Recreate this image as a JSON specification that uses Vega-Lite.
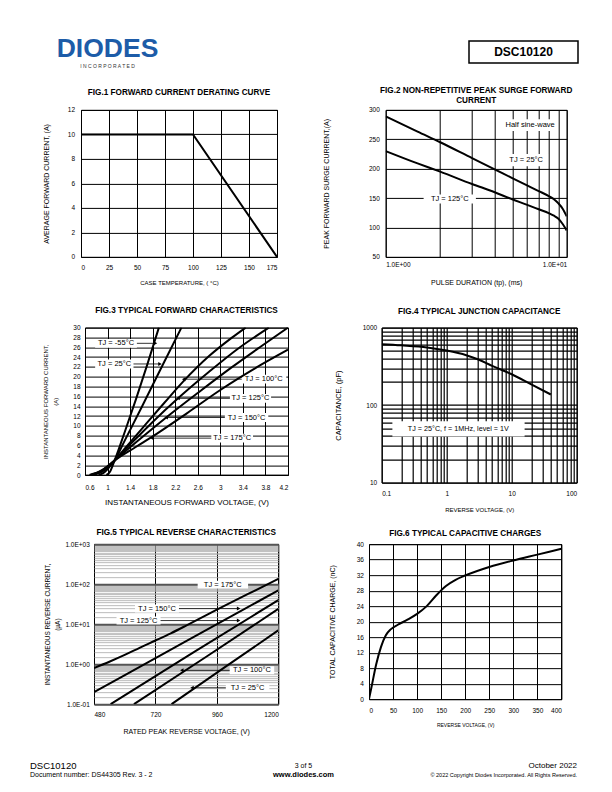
{
"$schema": "https://vega.github.io/schema/vega-lite/v6.json",
"background": "white",
"padding": {"left": 30, "top": 36, "right": 0, "bottom": 0},
"config": {
  "font": "Liberation Sans",
  "view": {"stroke": "black", "strokeWidth": 1},
  "axis": {"grid": true, "gridColor": "black", "gridWidth": 1, "gridOpacity": 1, "domain": false, "ticks": false, "tickSize": 0, "labelFont": "Liberation Sans", "labelFontSize": 6.5, "labelColor": "black", "titleFont": "Liberation Sans", "titleFontWeight": "normal", "titleColor": "black", "labelOverlap": false, "labelBound": false},
  "title": {"font": "Liberation Sans", "fontSize": 8.2, "fontWeight": "bold", "color": "black", "anchor": "middle", "lineHeight": 10, "frame": "group"},
  "text": {"font": "Liberation Sans", "color": "black"}
},
"spacing": 11.9,
"vconcat": [
  {"hconcat": [
    {"width": 155, "height": 32, "view": {"stroke": null},
     "layer": [
       {"data": {"values": [{"t": "DIODES"}]}, "mark": {"type": "text", "fontSize": 26.5, "fontWeight": "bold", "color": "#1d5ca8", "baseline": "alphabetic"}, "encoding": {"text": {"field": "t", "type": "nominal"}}},
       {"data": {"values": [{"t": "I   N   C   O   R   P   O   R   A   T   E   D"}]}, "mark": {"type": "text", "fontSize": 5, "color": "#333333", "baseline": "top", "dy": 6.5}, "encoding": {"text": {"field": "t", "type": "nominal"}}}
     ]},
    {"width": 109, "height": 22, "view": {"stroke": "black", "strokeWidth": 1.5},
     "data": {"values": [{"t": "DSC10120"}]}, "mark": {"type": "text", "fontSize": 12, "fontWeight": "bold", "baseline": "middle"}, "encoding": {"text": {"field": "t", "type": "nominal"}}}
  ], "spacing": 284, "bounds": "flush"},
  {"spacing": 24.7, "vconcat": [
    {"spacing": 19.7, "vconcat": [
      {"hconcat": [
        {"width": 50.7, "height": 1, "view": {"stroke": null}, "data": {"values": [{"t": ""}]}, "mark": {"type": "text"}, "encoding": {"text": {"field": "t", "type": "nominal"}}},
        {"hconcat": [
          {"width": 196, "height": 147,
           "title": {"text": "FIG.1 FORWARD CURRENT DERATING CURVE", "offset": 9.4},
           "data": {"values": [{"x": 0, "y": 10}, {"x": 100, "y": 10}, {"x": 175, "y": 0}]},
           "mark": {"type": "line", "color": "black", "strokeWidth": 2},
           "encoding": {
             "x": {"field": "x", "type": "quantitative", "scale": {"domain": [0, 175], "nice": false, "zero": false}, "axis": {"values": [0, 25, 50, 75, 100, 125, 150, 175], "title": "CASE TEMPERATURE, ( °C)", "titleFontSize": 6, "titleY": 22.5, "labelPadding": 8}},
             "y": {"field": "y", "type": "quantitative", "scale": {"domain": [0, 12], "nice": false}, "axis": {"values": [0, 2, 4, 6, 8, 10, 12], "title": "AVERAGE FORWARD CURRENT, (A)", "titleFontSize": 7, "titleX": -32, "labelPadding": 6.4}}
           }},
          {"width": 181, "height": 147,
           "title": {"text": ["FIG.2 NON-REPETITIVE PEAK SURGE FORWARD", "CURRENT"], "offset": 2.1},
           "encoding": {
             "x": {"field": "x", "type": "quantitative", "scale": {"type": "log", "domain": [1, 10], "nice": false}, "axis": {"values": [1, 2, 3, 4, 5, 6, 7, 8, 9, 10], "labelExpr": "datum.value == 1 ? '1.0E+00' : datum.value == 10 ? '1.0E+01' : ''", "labelFlush": true, "title": "PULSE DURATION (tp), (ms)", "titleFontSize": 7, "titleY": 21.2, "labelPadding": 4.6}},
             "y": {"field": "y", "type": "quantitative", "scale": {"domain": [50, 300], "nice": false, "zero": false}, "axis": {"values": [50, 100, 150, 200, 250, 300], "title": "PEAK FORWARD SURGE CURRENT,(A)", "titleFontSize": 7, "titleX": -56.5, "labelPadding": 6.4}}
           },
           "layer": [
             {"data": {"values": [{"x": 4.46, "x2": 8.85, "y": 264, "y2": 284}, {"x": 4.52, "x2": 7.89, "y": 204, "y2": 225}, {"x": 1.62, "x2": 3.15, "y": 141, "y2": 156}]},
              "mark": {"type": "rect", "color": "white"}, "encoding": {"x2": {"field": "x2"}, "y2": {"field": "y2"}}},
             {"data": {"values": [
               {"s": "25", "x": 1, "y": 289}, {"s": "25", "x": 1.5, "y": 263}, {"s": "25", "x": 2, "y": 245}, {"s": "25", "x": 3, "y": 218}, {"s": "25", "x": 4, "y": 199}, {"s": "25", "x": 5, "y": 184}, {"s": "25", "x": 6, "y": 172}, {"s": "25", "x": 7, "y": 162}, {"s": "25", "x": 8, "y": 153}, {"s": "25", "x": 8.5, "y": 148}, {"s": "25", "x": 9, "y": 141}, {"s": "25", "x": 9.5, "y": 132}, {"s": "25", "x": 10, "y": 119},
               {"s": "125", "x": 1, "y": 230}, {"s": "125", "x": 1.5, "y": 209}, {"s": "125", "x": 2, "y": 195}, {"s": "125", "x": 3, "y": 174}, {"s": "125", "x": 4, "y": 160}, {"s": "125", "x": 5, "y": 148}, {"s": "125", "x": 6, "y": 139}, {"s": "125", "x": 7, "y": 131}, {"s": "125", "x": 8, "y": 124}, {"s": "125", "x": 8.5, "y": 120}, {"s": "125", "x": 9, "y": 115}, {"s": "125", "x": 9.5, "y": 106}, {"s": "125", "x": 10, "y": 95}
             ]}, "mark": {"type": "line", "color": "black", "strokeWidth": 2, "interpolate": "monotone", "clip": true}, "encoding": {"detail": {"field": "s", "type": "nominal"}}},
             {"data": {"values": [{"x": 6.28, "y": 274, "label": "Half sine-wave"}, {"x": 5.97, "y": 214.6, "label": "TJ = 25°C"}, {"x": 2.26, "y": 148, "label": "TJ = 125°C"}]},
              "mark": {"type": "text", "fontSize": 7.5, "baseline": "middle"}, "encoding": {"text": {"field": "label", "type": "nominal"}}}
           ]}
        ], "spacing": 108.7, "bounds": "flush"}
      ], "spacing": 0, "bounds": "flush"},
      {"spacing": 13.55, "vconcat": [
        {"hconcat": [
          {"width": 54.3, "height": 1, "view": {"stroke": null}, "data": {"values": [{"t": ""}]}, "mark": {"type": "text"}, "encoding": {"text": {"field": "t", "type": "nominal"}}},
          {"hconcat": [
            {"width": 203, "height": 147.4,
             "title": {"text": "FIG.3 TYPICAL FORWARD CHARACTERISTICS", "offset": 9.1},
             "encoding": {
               "x": {"field": "x", "type": "quantitative", "scale": {"domain": [0.6, 4.2], "nice": false, "zero": false}, "axis": {"values": [0.6, 1, 1.4, 1.8, 2.2, 2.6, 3, 3.4, 3.8, 4.2], "format": "~g", "title": "INSTANTANEOUS FORWARD VOLTAGE, (V)", "titleFontSize": 8, "titleY": 23.2, "labelPadding": 9.2}},
               "y": {"field": "y", "type": "quantitative", "scale": {"domain": [0, 30], "nice": false}, "axis": {"values": [0, 2, 4, 6, 8, 10, 12, 14, 16, 18, 20, 22, 24, 26, 28, 30], "title": ["INSTANTANEOUS FORWARD CURRENT,", "(A)"], "titleFontSize": 6, "titleLineHeight": 10, "titleX": -36.5, "labelPadding": 5}}
             },
             "layer": [
               {"data": {"values": [{"x": 0.78, "x2": 1.52, "y": 25.9, "y2": 27.7}, {"x": 0.78, "x2": 1.46, "y": 21.7, "y2": 23.5}, {"x": 3.38, "x2": 4.17, "y": 18.6, "y2": 20.4}, {"x": 3.17, "x2": 3.9, "y": 14.7, "y2": 16.5}, {"x": 3.08, "x2": 3.85, "y": 10.8, "y2": 12.6}, {"x": 2.84, "x2": 3.58, "y": 6.6, "y2": 8.4}]},
                "mark": {"type": "rect", "color": "white"}, "encoding": {"x2": {"field": "x2"}, "y2": {"field": "y2"}}},
               {"data": {"values": [
                 {"s": "-55", "x": 0.98, "y": 0}, {"s": "-55", "x": 1.04, "y": 0.6}, {"s": "-55", "x": 1.1, "y": 2.2}, {"s": "-55", "x": 1.3, "y": 8.6}, {"s": "-55", "x": 1.5, "y": 15.3}, {"s": "-55", "x": 1.7, "y": 22.3}, {"s": "-55", "x": 1.91, "y": 30},
                 {"s": "25", "x": 0.84, "y": 0}, {"s": "25", "x": 0.95, "y": 0.6}, {"s": "25", "x": 1.03, "y": 1.6}, {"s": "25", "x": 1.12, "y": 2.9}, {"s": "25", "x": 1.3, "y": 6.9}, {"s": "25", "x": 1.6, "y": 13.7}, {"s": "25", "x": 1.9, "y": 20.6}, {"s": "25", "x": 2.1, "y": 25.2}, {"s": "25", "x": 2.31, "y": 30},
                 {"s": "100", "x": 0.74, "y": 0}, {"s": "100", "x": 0.9, "y": 0.7}, {"s": "100", "x": 1.0, "y": 1.5}, {"s": "100", "x": 1.12, "y": 2.9}, {"s": "100", "x": 1.3, "y": 5.3}, {"s": "100", "x": 1.6, "y": 9.3}, {"s": "100", "x": 2.0, "y": 14.6}, {"s": "100", "x": 2.34, "y": 19.0}, {"s": "100", "x": 2.8, "y": 24.2}, {"s": "100", "x": 3.2, "y": 27.9}, {"s": "100", "x": 3.45, "y": 30},
                 {"s": "125", "x": 0.72, "y": 0}, {"s": "125", "x": 0.9, "y": 0.8}, {"s": "125", "x": 1.0, "y": 1.6}, {"s": "125", "x": 1.12, "y": 2.9}, {"s": "125", "x": 1.4, "y": 6.2}, {"s": "125", "x": 1.8, "y": 10.8}, {"s": "125", "x": 2.25, "y": 15.6}, {"s": "125", "x": 2.8, "y": 21.0}, {"s": "125", "x": 3.3, "y": 25.6}, {"s": "125", "x": 3.86, "y": 30},
                 {"s": "150", "x": 0.7, "y": 0}, {"s": "150", "x": 0.9, "y": 0.9}, {"s": "150", "x": 1.0, "y": 1.7}, {"s": "150", "x": 1.12, "y": 2.9}, {"s": "150", "x": 1.5, "y": 6.6}, {"s": "150", "x": 2.04, "y": 11.7}, {"s": "150", "x": 2.6, "y": 16.7}, {"s": "150", "x": 3.2, "y": 21.9}, {"s": "150", "x": 3.7, "y": 26}, {"s": "150", "x": 4.2, "y": 30},
                 {"s": "175", "x": 0.68, "y": 0}, {"s": "175", "x": 0.9, "y": 1.0}, {"s": "175", "x": 1.0, "y": 1.8}, {"s": "175", "x": 1.12, "y": 2.9}, {"s": "175", "x": 1.5, "y": 5.7}, {"s": "175", "x": 1.78, "y": 7.7}, {"s": "175", "x": 2.4, "y": 12.5}, {"s": "175", "x": 3.0, "y": 17.3}, {"s": "175", "x": 3.6, "y": 21.6}, {"s": "175", "x": 4.2, "y": 25.5}
               ]}, "mark": {"type": "line", "color": "black", "strokeWidth": 2, "interpolate": "monotone", "clip": true}, "encoding": {"detail": {"field": "s", "type": "nominal"}}},
               {"data": {"values": [{"x": 1.52, "x2": 1.85, "y": 26.8}, {"x": 1.46, "x2": 1.93, "y": 22.6}, {"x": 3.38, "x2": 2.35, "y": 19.5}, {"x": 3.17, "x2": 2.25, "y": 15.6}, {"x": 3.08, "x2": 2.04, "y": 11.7}, {"x": 2.84, "x2": 1.79, "y": 7.5}]},
                "mark": {"type": "rule", "color": "black", "strokeWidth": 0.8}, "encoding": {"x2": {"field": "x2"}}},
               {"data": {"values": [{"x": 1.85, "y": 26.8, "dir": "right"}, {"x": 1.93, "y": 22.6, "dir": "right"}, {"x": 2.35, "y": 19.5, "dir": "left"}, {"x": 2.25, "y": 15.6, "dir": "left"}, {"x": 2.04, "y": 11.7, "dir": "left"}, {"x": 1.79, "y": 7.5, "dir": "left"}]},
                "mark": {"type": "point", "filled": true, "color": "black", "size": 16, "opacity": 1}, "encoding": {"shape": {"field": "dir", "type": "nominal", "scale": {"domain": ["left", "right"], "range": ["triangle-left", "triangle-right"]}, "legend": null}}},
               {"data": {"values": [{"x": 1.15, "y": 26.8, "label": "TJ = -55°C"}, {"x": 1.12, "y": 22.6, "label": "TJ = 25°C"}, {"x": 3.77, "y": 19.5, "label": "TJ = 100°C"}, {"x": 3.535, "y": 15.6, "label": "TJ = 125°C"}, {"x": 3.465, "y": 11.7, "label": "TJ = 150°C"}, {"x": 3.21, "y": 7.5, "label": "TJ = 175°C"}]},
                "mark": {"type": "text", "fontSize": 7.5, "baseline": "middle"}, "encoding": {"text": {"field": "label", "type": "nominal"}}}
             ]},
            {"width": 195, "height": 155,
             "title": {"text": "FIG.4 TYPICAL JUNCTION CAPACITANCE", "offset": 8.4},
             "encoding": {
               "x": {"field": "x", "type": "quantitative", "scale": {"type": "log", "domain": [0.1, 100], "nice": false}, "axis": {"values": [0.1, 0.2, 0.3, 0.4, 0.5, 0.6, 0.7, 0.8, 0.9, 1, 2, 3, 4, 5, 6, 7, 8, 9, 10, 20, 30, 40, 50, 60, 70, 80, 90, 100], "labelExpr": "datum.value == 0.1 ? '0.1' : datum.value == 1 ? '1' : datum.value == 10 ? '10' : datum.value == 100 ? '100' : ''", "gridWidth": 1.2, "title": "REVERSE VOLTAGE, (V)", "titleFontSize": 6, "titleY": 24.15, "labelPadding": 7.6}},
               "y": {"field": "y", "type": "quantitative", "scale": {"type": "log", "domain": [10, 1000], "nice": false}, "axis": {"values": [10, 20, 30, 40, 50, 60, 70, 80, 90, 100, 200, 300, 400, 500, 600, 700, 800, 900, 1000], "labelExpr": "datum.value == 10 ? '10' : datum.value == 100 ? '100' : datum.value == 1000 ? '1000' : ''", "gridWidth": 1.2, "title": "CAPACITANCE, (pF)", "titleFontSize": 7.5, "titleX": -39, "labelPadding": 5}}
             },
             "layer": [
               {"data": {"values": [{"x": 0.146, "x2": 15.8, "y": 39.4, "y2": 61.7}]}, "mark": {"type": "rect", "color": "white"}, "encoding": {"x2": {"field": "x2"}, "y2": {"field": "y2"}}},
               {"data": {"values": [{"x": 0.1, "y": 610}, {"x": 0.2, "y": 590}, {"x": 0.5, "y": 555}, {"x": 1, "y": 505}, {"x": 2, "y": 440}, {"x": 3, "y": 390}, {"x": 5, "y": 320}, {"x": 10, "y": 250}, {"x": 20, "y": 185}, {"x": 40, "y": 137}]},
                "mark": {"type": "line", "color": "black", "strokeWidth": 2, "interpolate": "monotone", "clip": true}},
               {"data": {"values": [{"x": 1.51, "y": 49.6, "label": "TJ = 25°C, f = 1MHz, level = 1V"}]}, "mark": {"type": "text", "fontSize": 7.2, "baseline": "middle"}, "encoding": {"text": {"field": "label", "type": "nominal"}}}
             ]}
          ], "spacing": 93.7, "bounds": "flush"}
        ], "spacing": 0, "bounds": "flush"},
        {"hconcat": [
          {"width": 64, "height": 1, "view": {"stroke": null}, "data": {"values": [{"t": ""}]}, "mark": {"type": "text"}, "encoding": {"text": {"field": "t", "type": "nominal"}}},
          {"hconcat": [
            {"width": 184.3, "height": 160,
             "title": {"text": "FIG.5 TYPICAL REVERSE CHARACTERISTICS", "offset": 4.1},
             "encoding": {
               "x": {"field": "x", "type": "quantitative", "scale": {"domain": [480, 1200], "nice": false, "zero": false}, "axis": {"values": [480, 720, 960, 1200], "format": "d", "labelFlush": true, "title": "RATED PEAK REVERSE VOLTAGE, (V)", "titleFontSize": 7, "titleY": 23.5, "labelPadding": 7}},
               "y": {"field": "y", "type": "quantitative", "scale": {"type": "log", "domain": [0.1, 1000], "nice": false},
                     "axis": {"values": [0.1, 0.15, 0.2, 0.25, 0.3, 0.35, 0.4, 0.45, 0.5, 0.55, 0.6, 0.65, 0.7, 0.75, 0.8, 0.85, 0.9, 0.95, 1, 1.5, 2, 2.5, 3, 3.5, 4, 4.5, 5, 5.5, 6, 6.5, 7, 7.5, 8, 8.5, 9, 9.5, 10, 15, 20, 25, 30, 35, 40, 45, 50, 55, 60, 65, 70, 75, 80, 85, 90, 95, 100, 150, 200, 250, 300, 350, 400, 450, 500, 550, 600, 650, 700, 750, 800, 850, 900, 950, 1000],
                              "labelExpr": "datum.value == 0.1 ? '1.0E-01' : datum.value == 1 ? '1.0E+00' : datum.value == 10 ? '1.0E+01' : datum.value == 100 ? '1.0E+02' : datum.value == 1000 ? '1.0E+03' : ''",
                              "gridColor": {"condition": {"test": "datum.value == 0.1 || datum.value == 1 || datum.value == 10 || datum.value == 100 || datum.value == 1000", "value": "#555555"}, "value": "#aaaaaa"},
                              "gridWidth": {"condition": {"test": "datum.value == 0.1 || datum.value == 1 || datum.value == 10 || datum.value == 100 || datum.value == 1000", "value": 2}, "value": 0.8},
                              "title": ["INSTANTANEOUS REVERSE CURRENT,", "(µA)"], "titleFontSize": 6.5, "titleLineHeight": 10, "titleX": -43.7, "labelPadding": 4.7}}
             },
             "layer": [
               {"data": {"values": [{"x": 885, "x2": 1082, "y": 78, "y2": 122}, {"x": 640, "x2": 812, "y": 19.5, "y2": 30.8}, {"x": 568, "x2": 740, "y": 9.8, "y2": 15.5}, {"x": 1010, "x2": 1184, "y": 0.556, "y2": 0.88}, {"x": 995, "x2": 1165, "y": 0.204, "y2": 0.323}]},
                "mark": {"type": "rect", "color": "white"}, "encoding": {"x2": {"field": "x2"}, "y2": {"field": "y2"}}},
               {"data": {"values": [
                 {"s": "175", "x": 480, "y": 0.8}, {"s": "175", "x": 540, "y": 1.15}, {"s": "175", "x": 600, "y": 1.7}, {"s": "175", "x": 660, "y": 2.6}, {"s": "175", "x": 720, "y": 3.9}, {"s": "175", "x": 780, "y": 5.9}, {"s": "175", "x": 840, "y": 9.2}, {"s": "175", "x": 900, "y": 14.5}, {"s": "175", "x": 960, "y": 23}, {"s": "175", "x": 1020, "y": 36}, {"s": "175", "x": 1080, "y": 56}, {"s": "175", "x": 1140, "y": 87}, {"s": "175", "x": 1200, "y": 135},
                 {"s": "150", "x": 480, "y": 0.2}, {"s": "150", "x": 840, "y": 3.74}, {"s": "150", "x": 1200, "y": 70},
                 {"s": "125", "x": 545, "y": 0.1}, {"s": "125", "x": 870, "y": 2.0}, {"s": "125", "x": 1200, "y": 40},
                 {"s": "100", "x": 636, "y": 0.1}, {"s": "100", "x": 920, "y": 1.55}, {"s": "100", "x": 1200, "y": 24},
                 {"s": "25", "x": 783, "y": 0.1}, {"s": "25", "x": 990, "y": 0.83}, {"s": "25", "x": 1200, "y": 7}
               ]}, "mark": {"type": "line", "color": "black", "strokeWidth": 2, "interpolate": "monotone", "clip": true}, "encoding": {"detail": {"field": "s", "type": "nominal"}}},
               {"data": {"values": [{"x": 812, "x2": 1045, "y": 24.5}, {"x": 740, "x2": 1045, "y": 12.3}, {"x": 1010, "x2": 823, "y": 0.7}, {"x": 995, "x2": 863, "y": 0.257}]},
                "mark": {"type": "rule", "color": "black", "strokeWidth": 0.8}, "encoding": {"x2": {"field": "x2"}}},
               {"data": {"values": [{"x": 1045, "y": 24.5, "dir": "right"}, {"x": 1045, "y": 12.3, "dir": "right"}, {"x": 823, "y": 0.7, "dir": "left"}, {"x": 863, "y": 0.257, "dir": "left"}]},
                "mark": {"type": "point", "filled": true, "color": "black", "size": 16, "opacity": 1}, "encoding": {"shape": {"field": "dir", "type": "nominal", "scale": {"domain": ["left", "right"], "range": ["triangle-left", "triangle-right"]}, "legend": null}}},
               {"data": {"values": [{"x": 983, "y": 97, "label": "TJ = 175°C"}, {"x": 726, "y": 24.5, "label": "TJ = 150°C"}, {"x": 654, "y": 12.3, "label": "TJ = 125°C"}, {"x": 1097, "y": 0.7, "label": "TJ = 100°C"}, {"x": 1080, "y": 0.257, "label": "TJ = 25°C"}]},
                "mark": {"type": "text", "fontSize": 7.5, "baseline": "middle"}, "encoding": {"text": {"field": "label", "type": "nominal"}}}
             ]},
            {"width": 192.4, "height": 155,
             "title": {"text": "FIG.6 TYPICAL CAPACITIVE CHARGES", "offset": 3.4},
             "data": {"values": [{"x": 0, "y": 0}, {"x": 5, "y": 3}, {"x": 15, "y": 9}, {"x": 25, "y": 13.5}, {"x": 35, "y": 16.5}, {"x": 45, "y": 18}, {"x": 60, "y": 19.2}, {"x": 80, "y": 20.5}, {"x": 100, "y": 22}, {"x": 120, "y": 24}, {"x": 140, "y": 26.8}, {"x": 160, "y": 29.2}, {"x": 180, "y": 30.8}, {"x": 200, "y": 31.9}, {"x": 250, "y": 34.1}, {"x": 300, "y": 35.8}, {"x": 350, "y": 37.3}, {"x": 400, "y": 38.8}]},
             "mark": {"type": "line", "color": "black", "strokeWidth": 2, "interpolate": "monotone", "clip": true},
             "encoding": {
               "x": {"field": "x", "type": "quantitative", "scale": {"domain": [0, 400], "nice": false}, "axis": {"values": [0, 50, 100, 150, 200, 250, 300, 350, 400], "title": "REVERSE VOLTAGE, (V)", "titleFontSize": 5, "titleY": 23.8, "labelPadding": 8.6}},
               "y": {"field": "y", "type": "quantitative", "scale": {"domain": [0, 40], "nice": false}, "axis": {"values": [0, 4, 8, 12, 16, 20, 24, 28, 32, 36, 40], "title": "TOTAL CAPACITIVE CHARGE, (nC)", "titleFontSize": 7, "titleX": -33.4, "labelPadding": 5.6}}
             }}
          ], "spacing": 90, "bounds": "flush"}
        ], "spacing": 0, "bounds": "flush"}
      ]}
    ]},
    {"width": 547, "height": 9, "view": {"stroke": null},
     "encoding": {
       "x": {"field": "slot", "type": "nominal", "scale": {"type": "point", "domain": ["left", "center", "right"], "padding": 0}, "axis": null},
       "y": {"field": "line", "type": "nominal", "scale": {"type": "point", "domain": ["1", "2"], "padding": 0}, "axis": null},
       "text": {"field": "t", "type": "nominal"}
     },
     "layer": [
       {"data": {"values": [{"slot": "left", "line": "1", "t": "DSC10120"}]}, "mark": {"type": "text", "fontSize": 9.5, "align": "left", "baseline": "middle"}},
       {"data": {"values": [{"slot": "left", "line": "2", "t": "Document number: DS44305 Rev. 3 - 2"}]}, "mark": {"type": "text", "fontSize": 7, "align": "left", "baseline": "middle"}},
       {"data": {"values": [{"slot": "center", "line": "1", "t": "3 of 5"}]}, "mark": {"type": "text", "fontSize": 7, "align": "center", "baseline": "middle"}},
       {"data": {"values": [{"slot": "center", "line": "2", "t": "www.diodes.com"}]}, "mark": {"type": "text", "fontSize": 7.5, "fontWeight": "bold", "align": "center", "baseline": "middle"}},
       {"data": {"values": [{"slot": "right", "line": "1", "t": "October 2022"}]}, "mark": {"type": "text", "fontSize": 8, "align": "right", "baseline": "middle"}},
       {"data": {"values": [{"slot": "right", "line": "2", "t": "© 2022 Copyright Diodes Incorporated. All Rights Reserved."}]}, "mark": {"type": "text", "fontSize": 5.5, "align": "right", "baseline": "middle"}}
     ]}
  ]}
]
}
